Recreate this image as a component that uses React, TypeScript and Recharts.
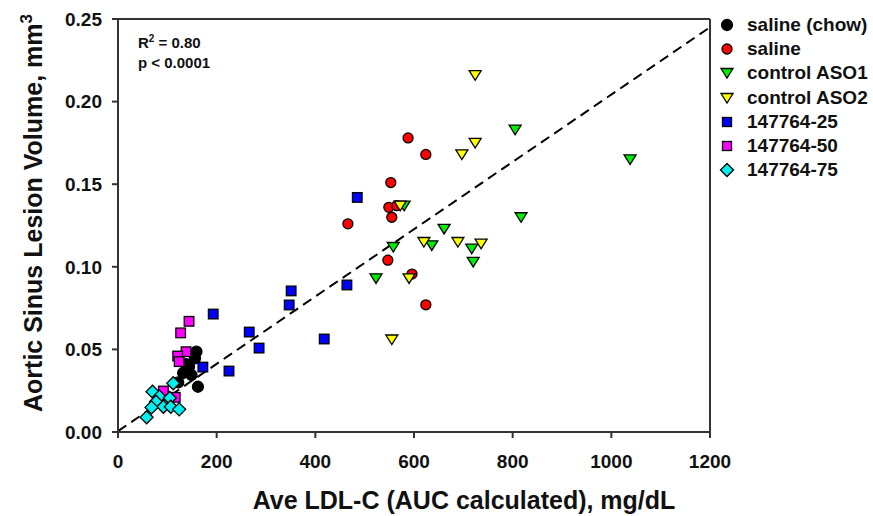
import { ScatterChart, Scatter, XAxis, YAxis, ReferenceLine } from "recharts";

// [Ave LDL-C (mg/dL), lesion volume (mm3)]
const salineChow = [
  [159, 0.0486], [156, 0.0446], [144, 0.0395], [132, 0.0357],
  [149, 0.0345], [162, 0.0274], [122, 0.030], [138, 0.041],
];
const saline = [
  [588, 0.178], [624, 0.168], [553, 0.151], [549, 0.136], [565, 0.137],
  [555, 0.130], [466, 0.126], [547, 0.104], [596, 0.0956], [624, 0.077],
];
const controlAso1 = [
  [805, 0.183], [1038, 0.165], [580, 0.137], [817, 0.130], [661, 0.123],
  [558, 0.112], [636, 0.113], [717, 0.111], [720, 0.103], [523, 0.093],
];
const controlAso2 = [
  [724, 0.216], [724, 0.175], [697, 0.168], [572, 0.137], [620, 0.115],
  [689, 0.115], [736, 0.114], [590, 0.093], [555, 0.056],
];
const dose25 = [
  [485, 0.142], [464, 0.089], [351, 0.0854], [347, 0.0769], [193, 0.0714],
  [266, 0.0605], [418, 0.0563], [286, 0.0508], [172, 0.0393], [225, 0.0369],
];
const dose50 = [
  [144, 0.067], [127, 0.060], [138, 0.0486], [121, 0.046], [124, 0.0426],
  [92, 0.0248], [116, 0.021],
];
const dose75 = [
  [112, 0.0295], [70, 0.0244], [84, 0.0214], [105, 0.0206], [77, 0.0183],
  [92, 0.0153], [107, 0.0153], [68, 0.0149], [124, 0.0137], [58, 0.0089],
];

const xTicks = [0, 200, 400, 600, 800, 1000, 1200];
const yTicks = [0, 0.05, 0.1, 0.15, 0.2, 0.25];
const fitLine = [
  { x: 0, y: 0.0005 },
  { x: 1200, y: 0.245 },
];

type Kind = "circle" | "triangle" | "square" | "diamond";

const series: { name: string; data: number[][]; kind: Kind; fill: string; r: number }[] = [
  { name: "saline (chow)", data: salineChow, kind: "circle", fill: "#000000", r: 5.5 },
  { name: "saline", data: saline, kind: "circle", fill: "#ff0000", r: 5 },
  { name: "control ASO1", data: controlAso1, kind: "triangle", fill: "#00ee00", r: 6 },
  { name: "control ASO2", data: controlAso2, kind: "triangle", fill: "#ffff00", r: 6 },
  { name: "147764-25", data: dose25, kind: "square", fill: "#0000ff", r: 4.8 },
  { name: "147764-50", data: dose50, kind: "square", fill: "#ff00ff", r: 4.8 },
  { name: "147764-75", data: dose75, kind: "diamond", fill: "#00f0f0", r: 6.5 },
];

const FONT = "'Liberation Sans', Arial, Helvetica, sans-serif";

function Marker({ kind, fill, cx, cy, r }: { kind: Kind; fill: string; cx: number; cy: number; r: number }) {
  const stroke = { stroke: "#000", strokeWidth: 1.3, fill };
  if (kind === "circle") return <circle cx={cx} cy={cy} r={r} {...stroke} />;
  if (kind === "square")
    return <rect x={cx - r} y={cy - r} width={2 * r} height={2 * r} {...stroke} />;
  if (kind === "diamond")
    return (
      <path
        d={`M${cx},${cy - r}L${cx + r},${cy}L${cx},${cy + r}L${cx - r},${cy}Z`}
        {...stroke}
      />
    );
  // downward pointing triangle
  return (
    <path
      d={`M${cx - r},${cy - r * 0.75}L${cx + r},${cy - r * 0.75}L${cx},${cy + r * 0.85}Z`}
      {...stroke}
    />
  );
}

const App = () => {
  return (
    <div style={{ position: "absolute", left: 0, top: 0, width: 873, height: 516, background: "#fff" }}>
      <ScatterChart width={873} height={516} margin={{ top: 19, right: 163, bottom: 0, left: 0 }}>
        <XAxis
          type="number"
          dataKey="x"
          domain={[0, 1200]}
          ticks={xTicks}
          height={84}
          tickSize={6}
          tickMargin={17}
          stroke="#333"
          strokeWidth={2}
          tick={{ fill: "#111", fontSize: 19, fontWeight: 700, fontFamily: FONT }}
          label={() => (
            <text x={464} y={509} textAnchor="middle" fill="#111" fontSize={25} fontWeight={700} fontFamily={FONT}>
              Ave LDL-C (AUC calculated), mg/dL
            </text>
          )}
        />
        <YAxis
          type="number"
          dataKey="y"
          domain={[0, 0.25]}
          ticks={yTicks}
          width={118}
          tickSize={6}
          tickMargin={10}
          stroke="#333"
          strokeWidth={2}
          tickFormatter={(v: number) => v.toFixed(2)}
          tick={{ fill: "#111", fontSize: 19, fontWeight: 700, fontFamily: FONT }}
          label={() => (
            <text
              transform="translate(42,213) rotate(-90)"
              textAnchor="middle"
              fill="#111"
              fontSize={25}
              fontWeight={700}
              fontFamily={FONT}
            >
              Aortic Sinus Lesion Volume, mm
              <tspan dy={-10} fontSize={17}>3</tspan>
            </text>
          )}
        />
        <ReferenceLine y={0.25} stroke="#333" strokeWidth={2} />
        <ReferenceLine x={1200} stroke="#333" strokeWidth={2} />
        <ReferenceLine segment={fitLine} stroke="#000" strokeWidth={2} strokeDasharray="10 6" />
        {series.map((s) => (
          <Scatter
            key={s.name}
            name={s.name}
            data={s.data.map(([x, y]) => ({ x, y }))}
            isAnimationActive={false}
            shape={(p: any) => <Marker kind={s.kind} fill={s.fill} cx={p.cx} cy={p.cy} r={s.r} />}
          />
        ))}
      </ScatterChart>

      {/* fit statistics */}
      <div
        style={{
          position: "absolute",
          left: 138,
          top: 33,
          fontFamily: FONT,
          fontWeight: 700,
          fontSize: 15,
          lineHeight: "20px",
          color: "#111",
        }}
      >
        <div>
          R<sup style={{ fontSize: 10, lineHeight: 0 }}>2</sup> = 0.80
        </div>
        <div>p &lt; 0.0001</div>
      </div>

      {/* legend */}
      <div style={{ position: "absolute", left: 717, top: 13, fontFamily: FONT, fontWeight: 700, fontSize: 19, color: "#111" }}>
        {series.map((s) => (
          <div key={s.name} style={{ display: "flex", alignItems: "center", height: 24.2, whiteSpace: "nowrap" }}>
            <svg width={20} height={20} style={{ marginRight: 10 }}>
              <Marker kind={s.kind} fill={s.fill} cx={10} cy={10} r={s.kind === "square" ? 4.5 : s.r} />
            </svg>
            <span>{s.name}</span>
          </div>
        ))}
      </div>
    </div>
  );
};

export default App;
